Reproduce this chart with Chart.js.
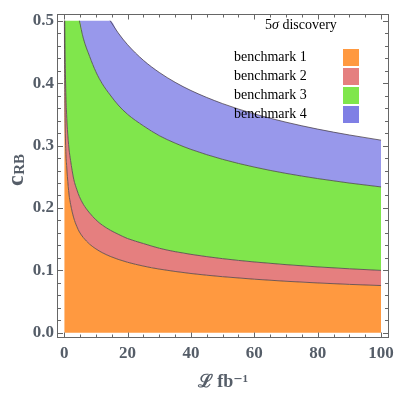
<!DOCTYPE html>
<html>
<head>
<meta charset="utf-8">
<script src="https://cdn.jsdelivr.net/npm/chart.js@4/dist/chart.umd.min.js"></script>
<style>
  html, body { margin: 0; padding: 0; background: #ffffff; }
  #wrap { position: relative; width: 400px; height: 397px; }
  #c { position: absolute; left: 0; top: 0; }
  .lg { position: absolute; font-family: "Liberation Serif", "DejaVu Serif", serif; font-size: 14px; line-height: 16px; color: #000; white-space: nowrap; }
  .sw { position: absolute; width: 16px; height: 17px; }
</style>
</head>
<body>
<div id="wrap">
  <canvas id="c" width="400" height="397"></canvas>
  <div class="lg" style="left:265px;top:17px;">5<i>σ</i> discovery</div>
  <div class="lg" style="left:234px;top:48.5px;">benchmark 1</div>
  <div class="lg" style="left:234px;top:67.5px;">benchmark 2</div>
  <div class="lg" style="left:234px;top:86.5px;">benchmark 3</div>
  <div class="lg" style="left:234px;top:105.5px;">benchmark 4</div>
  <div class="sw" style="left:343px;top:49px;background:#FF9940;"></div>
  <div class="sw" style="left:343px;top:68px;background:#E57F7F;"></div>
  <div class="sw" style="left:343px;top:87px;background:#80E64C;"></div>
  <div class="sw" style="left:343px;top:106px;background:#7F7FE5;"></div>
</div>
<script>
// ---- data ----
const lumi = [0, 0.05, 0.1, 0.16, 0.25, 0.5, 0.75, 1, 1.5, 2, 3, 4, 4.8, 6, 8, 10, 12, 14.5, 17, 20, 25, 30, 35, 40, 50, 60, 70, 80, 90, 100];
const bench1 = [0.5, 0.5, 0.43, 0.385, 0.345, 0.29, 0.268, 0.25, 0.222, 0.206, 0.184, 0.170, 0.1615, 0.1527, 0.1421, 0.1344, 0.1284, 0.1225, 0.1177, 0.1130, 0.1069, 0.1021, 0.0983, 0.0950, 0.0899, 0.0859, 0.0826, 0.0799, 0.0776, 0.0757];
const bench2 = [0.5, 0.5, 0.5, 0.5, 0.455, 0.385, 0.35, 0.326, 0.295, 0.276, 0.246, 0.229, 0.218, 0.206, 0.192, 0.181, 0.1725, 0.1645, 0.158, 0.151, 0.143, 0.1355, 0.130, 0.1257, 0.1188, 0.1135, 0.1092, 0.1056, 0.1026, 0.100];
const bench3 = [0.5, 0.5, 0.5, 0.5, 0.5, 0.5, 0.5, 0.5, 0.5, 0.5, 0.5, 0.5, 0.5, 0.4722, 0.443, 0.418, 0.399, 0.381, 0.365, 0.350, 0.3315, 0.3158, 0.3039, 0.2938, 0.2779, 0.2655, 0.2554, 0.2471, 0.2399, 0.2337];
const bench4 = [0.5, 0.5, 0.5, 0.5, 0.5, 0.5, 0.5, 0.5, 0.5, 0.5, 0.5, 0.5, 0.5, 0.5, 0.5, 0.5, 0.5, 0.5, 0.4806, 0.4615, 0.4365, 0.4171, 0.4013, 0.3881, 0.3671, 0.3507, 0.3374, 0.3263, 0.3169, 0.3086];
const seriesNames = ["benchmark 1", "benchmark 2", "benchmark 3", "benchmark 4"];
const xTicks = [0, 20, 40, 60, 80, 100];
const yTicks = [0.0, 0.1, 0.2, 0.3, 0.4, 0.5];
const xMinor = [0, 5, 10, 15, 20, 25, 30, 35, 40, 45, 50, 55, 60, 65, 70, 75, 80, 85, 90, 95, 100];
const yMinor = [0, 0.02, 0.04, 0.06, 0.08, 0.1, 0.12, 0.14, 0.16, 0.18, 0.2, 0.22, 0.24, 0.26, 0.28, 0.3, 0.32, 0.34, 0.36, 0.38, 0.4, 0.42, 0.44, 0.46, 0.48, 0.5];
const CLIP = 0.5;

// ---- styling ----
const fills = ["#FF9940", "#E57F7F", "#80E64C", "#9898EB"];
const lineCol = "rgba(70,60,70,0.75)";
const axisCol = "#666666";
const labelCol = "#555d68";
const serif = '"Liberation Serif", "DejaVu Serif", serif';

function pts(arr) { return arr.map((v, i) => ({ x: lumi[i], y: v })); }
// boundary line: hide the parts that run along the clipping edge
function edgePts(arr) {
  return arr.map((v, i) => {
    const keep = v < CLIP || (i > 0 && arr[i - 1] < CLIP) || (i < arr.length - 1 && arr[i + 1] < CLIP);
    return { x: lumi[i], y: keep ? v : null };
  });
}
const allSeries = [bench1, bench2, bench3, bench4];
const fillSets = allSeries.map((arr, i) => ({
  label: seriesNames[i],
  data: pts(arr),
  backgroundColor: fills[i],
  borderColor: "rgba(0,0,0,0)",
  borderWidth: 0,
  pointRadius: 0,
  fill: i === 0 ? "origin" : "-1",
  cubicInterpolationMode: "monotone",
  order: 2
}));
const lineSets = allSeries.map((arr, i) => ({
  label: seriesNames[i] + " edge",
  data: edgePts(arr),
  borderColor: lineCol,
  borderWidth: 1,
  pointRadius: 0,
  fill: false,
  spanGaps: false,
  cubicInterpolationMode: "monotone",
  order: 1
}));

const framePlugin = {
  id: "frame",
  afterDraw(chart) {
    const { ctx, chartArea: a, scales: { x, y } } = chart;
    ctx.save();
    ctx.strokeStyle = axisCol;
    ctx.lineWidth = 1;
    const L = Math.round(a.left) - 0.5, R = Math.round(a.right) + 0.5;
    const T = Math.round(a.top) + 0.5, B = Math.round(a.bottom) + 0.5;
    ctx.strokeRect(L, T, R - L, B - T);
    ctx.beginPath();
    xMinor.forEach(v => {
      const px = Math.round(x.getPixelForValue(v)) + 0.5;
      const len = xTicks.includes(v) ? 5 : 3;
      ctx.moveTo(px, B); ctx.lineTo(px, B - len);
      ctx.moveTo(px, T); ctx.lineTo(px, T + len);
    });
    yMinor.forEach(v => {
      const py = Math.round(y.getPixelForValue(v)) + 0.5;
      const major = yTicks.some(t => Math.abs(t - v) < 1e-9);
      const len = major ? 5.5 : 3.5;
      ctx.moveTo(L, py); ctx.lineTo(L + len, py);
      ctx.moveTo(R, py); ctx.lineTo(R - len, py);
    });
    ctx.stroke();
    // y axis title: c with subscript RB, rotated
    ctx.fillStyle = labelCol;
    ctx.translate(22.5, 186);
    ctx.rotate(-Math.PI / 2);
    ctx.textBaseline = "alphabetic";
    ctx.textAlign = "left";
    ctx.font = "bold 24px " + serif;
    ctx.fillText("c", 0, 0);
    const w = ctx.measureText("c").width;
    ctx.font = "bold 15px " + serif;
    ctx.fillText("RB", w + 0.5, 1.5);
    ctx.restore();
  }
};

new Chart(document.getElementById("c"), {
  type: "line",
  data: { datasets: fillSets.concat(lineSets) },
  options: {
    responsive: false,
    animation: false,
    devicePixelRatio: 1,
    layout: { padding: { top: 5, right: 9, left: 0, bottom: 0 } },
    plugins: { legend: { display: false }, tooltip: { enabled: false } },
    scales: {
      x: {
        type: "linear",
        min: -1.97,
        max: 102.19,
        grid: { display: false, drawTicks: false },
        border: { display: false },
        afterBuildTicks: s => { s.ticks = xTicks.map(v => ({ value: v })); },
        afterFit: s => { s.height = 60; },
        ticks: {
          padding: 6,
          color: labelCol,
          font: { family: serif, size: 17, weight: "bold" },
          callback: v => String(v),
          maxRotation: 0
        },
        title: {
          display: true,
          text: "ℒ fb⁻¹",
          color: labelCol,
          font: { family: serif, size: 18, weight: "bold" },
          padding: { top: 0, bottom: 4 }
        }
      },
      y: {
        type: "linear",
        min: -0.0067,
        max: 0.5104,
        grid: { display: false, drawTicks: false },
        border: { display: false },
        afterBuildTicks: s => { s.ticks = yTicks.map(v => ({ value: v })); },
        afterFit: s => { s.width = 58; },
        ticks: {
          padding: 4,
          color: labelCol,
          font: { family: serif, size: 17, weight: "bold" },
          callback: v => v.toFixed(1)
        }
      }
    }
  },
  plugins: [framePlugin]
});
</script>
</body>
</html>
